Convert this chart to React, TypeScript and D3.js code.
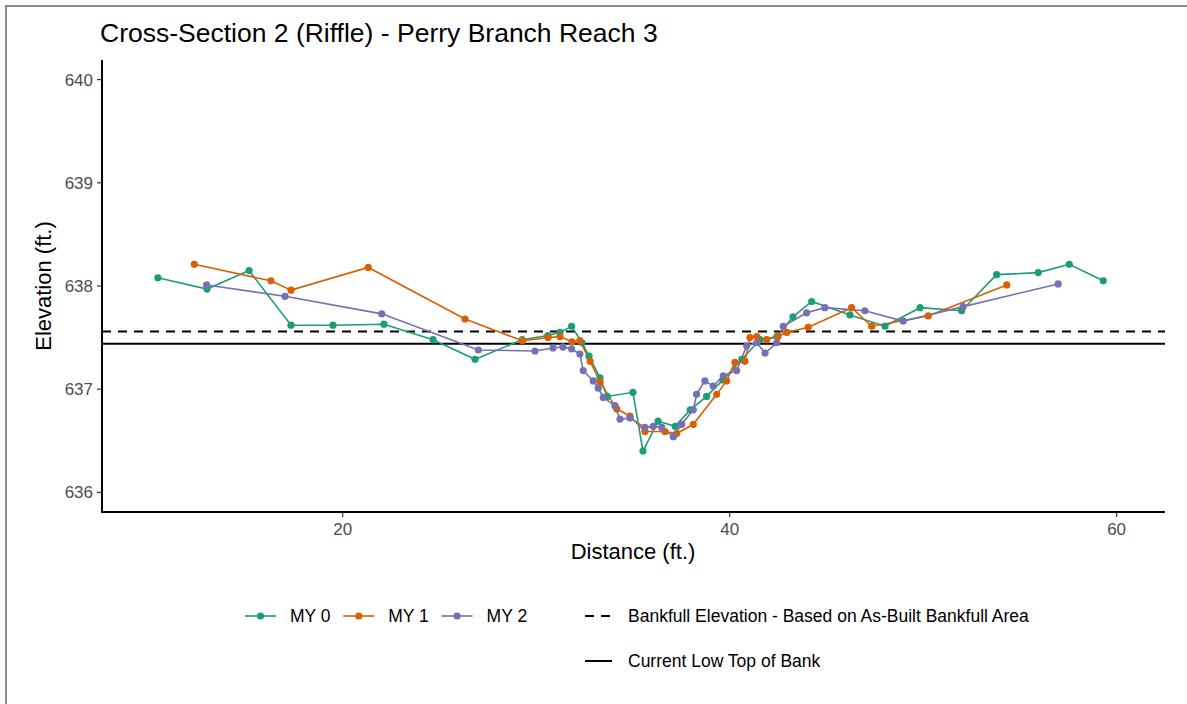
import * as d3 from 'd3';

// survey data
const my0Dist = [10.45, 12.99, 15.16, 17.33, 19.5, 22.13, 24.67, 26.84, 29.28, 30.6, 31.23, 31.83, 32.37, 32.73, 33.3, 33.67, 35.0, 35.52, 36.3, 37.18, 37.96, 38.81, 39.65, 40.63, 41.57, 42.44, 43.27, 44.24, 46.22, 48.03, 49.84, 51.99, 53.8, 55.95, 57.55, 59.31];
const my0Elev = [638.08, 637.97, 638.15, 637.62, 637.62, 637.63, 637.48, 637.29, 637.48, 637.52, 637.55, 637.61, 637.45, 637.32, 637.11, 636.93, 636.97, 636.4, 636.69, 636.64, 636.8, 636.93, 637.09, 637.29, 637.48, 637.51, 637.7, 637.85, 637.72, 637.61, 637.79, 637.76, 638.11, 638.13, 638.21, 638.05];

const my1Dist = [12.33, 16.29, 17.33, 21.32, 26.32, 29.28, 30.61, 31.23, 31.85, 32.26, 32.79, 33.3, 34.16, 34.85, 35.62, 36.66, 37.26, 38.12, 39.33, 39.84, 40.27, 40.79, 41.05, 41.4, 41.91, 42.5, 42.95, 44.06, 46.3, 47.34, 50.26, 54.32];
const my1Elev = [638.21, 638.05, 637.96, 638.18, 637.68, 637.47, 637.5, 637.51, 637.46, 637.47, 637.27, 637.07, 636.81, 636.74, 636.59, 636.59, 636.57, 636.66, 636.95, 637.08, 637.26, 637.27, 637.5, 637.51, 637.48, 637.51, 637.55, 637.6, 637.79, 637.61, 637.71, 638.01];

const my2Dist = [12.97, 17.02, 22.02, 27.01, 29.94, 30.87, 31.38, 31.83, 32.26, 32.43, 32.95, 33.21, 33.47, 34.07, 34.33, 34.85, 35.62, 36.05, 36.49, 37.09, 37.52, 38.12, 38.29, 38.72, 39.15, 39.67, 40.36, 40.88, 41.4, 41.83, 42.43, 42.77, 43.98, 44.92, 46.99, 48.97, 52.07, 56.98];
const my2Elev = [638.01, 637.9, 637.73, 637.38, 637.37, 637.4, 637.41, 637.39, 637.34, 637.18, 637.08, 637.01, 636.92, 636.84, 636.71, 636.72, 636.63, 636.64, 636.63, 636.54, 636.66, 636.8, 636.95, 637.08, 637.03, 637.13, 637.18, 637.42, 637.45, 637.35, 637.45, 637.61, 637.74, 637.79, 637.76, 637.66, 637.8, 638.02];

const seriesNames = ['MY 0', 'MY 1', 'MY 2'];
const seriesColors = ['#1b9e77', '#d95f02', '#7570b3'];

const bankfullElev = 637.56;
const lowTopOfBank = 637.44;

const xTicks = [20, 40, 60];
const yTicks = [636, 637, 638, 639, 640];

const W = 1187;
const H = 704;
const font = 'Liberation Sans, Arial, Helvetica, sans-serif';

export default function App() {
  const x = d3.scaleLinear().domain([7.56, 62.5]).range([102, 1165]);
  const y = d3.scaleLinear().domain([635.81, 640.19]).range([512, 60]);

  const series = [
    { dist: my0Dist, elev: my0Elev },
    { dist: my1Dist, elev: my1Elev },
    { dist: my2Dist, elev: my2Elev },
  ].map((s, i) => ({
    name: seriesNames[i],
    color: seriesColors[i],
    pts: s.dist.map((d, j) => [d, s.elev[j]] as [number, number]),
  }));

  const line = d3
    .line<[number, number]>()
    .x((d) => x(d[0]))
    .y((d) => y(d[1]));

  const [x0, x1] = x.range();
  const [yb, yt] = y.range();

  return (
    <svg
      width={W}
      height={H}
      style={{ position: 'absolute', left: 0, top: 0, background: '#fff' }}
      fontFamily={font}
    >
      {/* frame of the screenshot */}
      <path d={`M6,${H} V6 H${W}`} fill="none" stroke="#8a8a8a" strokeWidth={2} />

      <text x={100} y={42} fontSize={26.5} fill="#000">
        Cross-Section 2 (Riffle) - Perry Branch Reach 3
      </text>

      {/* reference lines */}
      <line x1={x0} x2={x1} y1={y(bankfullElev)} y2={y(bankfullElev)} stroke="#000" strokeWidth={2} strokeDasharray="9,7" />
      <line x1={x0} x2={x1} y1={y(lowTopOfBank)} y2={y(lowTopOfBank)} stroke="#000" strokeWidth={2} />

      {series.map((s) => (
        <path key={s.name} d={line(s.pts) ?? undefined} fill="none" stroke={s.color} strokeWidth={1.6} />
      ))}
      {series.map((s) =>
        s.pts.map((p, j) => (
          <circle key={s.name + j} cx={x(p[0])} cy={y(p[1])} r={3.6} fill={s.color} />
        ))
      )}

      {/* axes */}
      <line x1={x0} x2={x0} y1={yt} y2={yb + 1} stroke="#000" strokeWidth={2} />
      <line x1={x0 - 1} x2={x1} y1={yb} y2={yb} stroke="#000" strokeWidth={2} />
      {yTicks.map((t) => (
        <g key={t}>
          <line x1={x0 - 5} x2={x0} y1={y(t)} y2={y(t)} stroke="#333" strokeWidth={1.2} />
          <text x={x0 - 9} y={y(t) + 6} fontSize={17} textAnchor="end" fill="#4d4d4d">
            {t}
          </text>
        </g>
      ))}
      {xTicks.map((t) => (
        <g key={t}>
          <line x1={x(t)} x2={x(t)} y1={yb} y2={yb + 5} stroke="#333" strokeWidth={1.2} />
          <text x={x(t)} y={yb + 23} fontSize={17} textAnchor="middle" fill="#4d4d4d">
            {t}
          </text>
        </g>
      ))}

      <text x={633} y={559} fontSize={22} textAnchor="middle" fill="#000">
        Distance (ft.)
      </text>
      <text transform="translate(51,286) rotate(-90)" fontSize={22} textAnchor="middle" fill="#000">
        Elevation (ft.)
      </text>

      {/* legend */}
      {series.map((s, i) => {
        const lx = 245 + i * 98.3;
        return (
          <g key={s.name}>
            <line x1={lx} x2={lx + 31} y1={616} y2={616} stroke={s.color} strokeWidth={1.6} />
            <circle cx={lx + 15.5} cy={616} r={3.6} fill={s.color} />
            <text x={lx + 45} y={622} fontSize={17.5} fill="#000">
              {s.name}
            </text>
          </g>
        );
      })}
      <line x1={585} x2={612} y1={616} y2={616} stroke="#000" strokeWidth={2} strokeDasharray="9,7" />
      <text x={628} y={622} fontSize={17.5} fill="#000">
        Bankfull Elevation - Based on As-Built Bankfull Area
      </text>
      <line x1={585} x2={612} y1={661} y2={661} stroke="#000" strokeWidth={2} />
      <text x={628} y={667} fontSize={17.5} fill="#000">
        Current Low Top of Bank
      </text>
    </svg>
  );
}
